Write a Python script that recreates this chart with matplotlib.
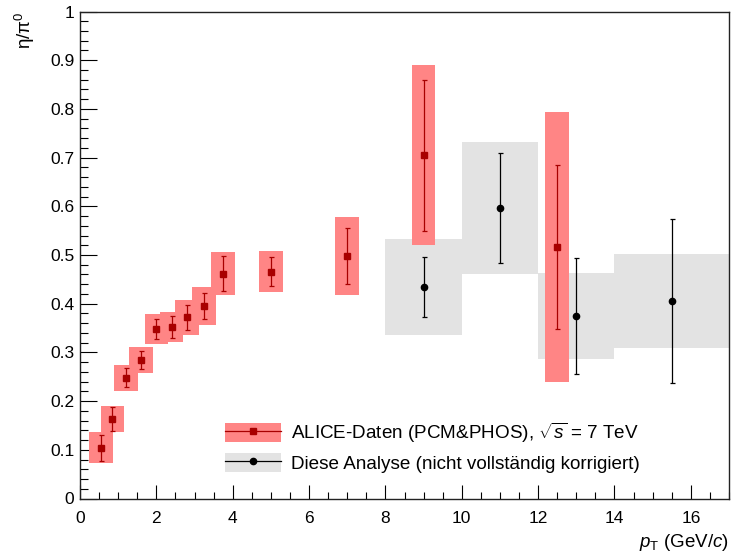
import matplotlib
matplotlib.use("Agg")
import matplotlib.pyplot as plt
from matplotlib.patches import Rectangle, Patch
from matplotlib.lines import Line2D
from matplotlib.legend_handler import HandlerTuple
import numpy as np

plt.rcParams['font.family'] = ['Liberation Sans', 'DejaVu Sans']
plt.rcParams['mathtext.fontset'] = 'custom'
plt.rcParams['mathtext.rm'] = 'Liberation Sans'
plt.rcParams['mathtext.it'] = 'Liberation Sans:italic'
plt.rcParams['mathtext.bf'] = 'Liberation Sans:bold'

# ALICE data (PCM&PHOS), sqrt(s) = 7 TeV
alice_pt = [0.55, 0.85, 1.2, 1.6, 2.0, 2.4, 2.8, 3.25, 3.75, 5.0, 7.0, 9.0, 12.5]
alice_val = [0.104, 0.163, 0.248, 0.284, 0.348, 0.352, 0.372, 0.395, 0.462, 0.466, 0.498, 0.705, 0.517]
alice_stat = [0.027, 0.024, 0.019, 0.019, 0.021, 0.022, 0.025, 0.027, 0.035, 0.029, 0.058, 0.155, 0.168]
alice_sys = [0.032, 0.027, 0.027, 0.027, 0.031, 0.031, 0.036, 0.039, 0.045, 0.042, 0.081, 0.185, 0.277]
alice_boxhalf = 0.31

# This analysis (not fully corrected)
ana_pt = [9.0, 11.0, 13.0, 15.5]
ana_lo = [8.0, 10.0, 12.0, 14.0]
ana_hi = [10.0, 12.0, 14.0, 17.0]
ana_val = [0.434, 0.596, 0.375, 0.406]
ana_stat = [0.062, 0.113, 0.119, 0.168]
ana_sys = [0.098, 0.136, 0.089, 0.097]

red_box = '#ff8585'
red_mark = '#a80000'
grey_box = '#e3e3e3'

fig = plt.figure(figsize=(7.31, 5.58), dpi=100)
ax = fig.add_axes([80/731, 1 - 498.5/558, 649/731, 487/558])

ax.set_xlim(0, 17)
ax.set_ylim(0, 1)

# grey boxes
for lo, hi, v, s in zip(ana_lo, ana_hi, ana_val, ana_sys):
    ax.add_patch(Rectangle((lo, v - s), hi - lo, 2 * s, facecolor=grey_box,
                           edgecolor='none', zorder=1))
# red boxes
for x, v, s in zip(alice_pt, alice_val, alice_sys):
    ax.add_patch(Rectangle((x - alice_boxhalf, v - s), 2 * alice_boxhalf, 2 * s,
                           facecolor=red_box, edgecolor='none', zorder=2))

ax.errorbar(ana_pt, ana_val, yerr=ana_stat, fmt='o', color='black', ms=4.5,
            elinewidth=0.9, capsize=1.8, capthick=0.9, zorder=3)
ax.errorbar(alice_pt, alice_val, yerr=alice_stat, fmt='s', color=red_mark,
            mfc=red_mark, mec=red_mark, ms=5, elinewidth=0.9, capsize=1.8,
            capthick=0.9, zorder=4)

# ticks
ax.xaxis.set_major_locator(matplotlib.ticker.MultipleLocator(2))
ax.xaxis.set_minor_locator(matplotlib.ticker.MultipleLocator(0.5))
ax.yaxis.set_major_locator(matplotlib.ticker.MultipleLocator(0.1))
ax.yaxis.set_minor_locator(matplotlib.ticker.MultipleLocator(0.02))
ax.xaxis.set_major_formatter(matplotlib.ticker.FuncFormatter(lambda v, p: f"{v:g}"))
ax.yaxis.set_major_formatter(matplotlib.ticker.FuncFormatter(lambda v, p: f"{v:g}"))
ax.tick_params(axis='both', which='both', direction='in', top=False, right=False,
               labelsize=12.5, width=0.8)
ax.tick_params(axis='x', which='major', length=10, pad=9)
ax.tick_params(axis='x', which='minor', length=5)
ax.tick_params(axis='y', which='major', length=12, pad=4)
ax.tick_params(axis='y', which='minor', length=6)
for sp in ax.spines.values():
    sp.set_linewidth(1.0)
    sp.set_color('#222222')

ax.set_xlabel(r'$p_{\mathrm{T}}$ (GeV/$c$)', fontsize=13.5, ha='right')
ax.xaxis.set_label_coords(1.0, -0.068)
ax.set_ylabel('η/π$^{0}$', fontsize=13.5, ha='right')
ax.yaxis.set_label_coords(-0.066, 1.0)

# legend
h1 = (Patch(facecolor=red_box, edgecolor='none'),
      Line2D([], [], color=red_mark, marker='s', ms=5, lw=0.9))
h2 = (Patch(facecolor=grey_box, edgecolor='none'),
      Line2D([], [], color='black', marker='o', ms=4.5, lw=0.9))
leg = ax.legend([h1, h2],
                [r'ALICE-Daten (PCM&PHOS), $\sqrt{s}$ = 7 TeV',
                 'Diese Analyse (nicht vollständig korrigiert)'],
                handler_map={tuple: HandlerTuple(ndivide=1, pad=0)},
                loc='upper left', bbox_to_anchor=((223 - 80) / 649, 1 - (419 - 11.5) / 487),
                frameon=False, fontsize=13.6, handlelength=2.95, handleheight=1.2,
                handletextpad=0.55, labelspacing=0.4, borderaxespad=0, borderpad=0.1)

fig.savefig('out.png', dpi=100)
